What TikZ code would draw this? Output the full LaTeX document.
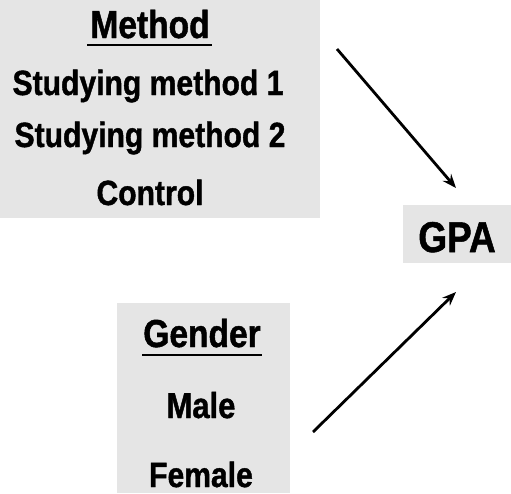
\documentclass[tikz,border=0pt]{standalone}
\usepackage{fontspec}
\setmainfont[FakeStretch=0.86, BoldFeatures={FakeBold=1.2}]{Liberation Sans}
\usetikzlibrary{arrows.meta}
\tikzset{
  speckle/.style={fill=black!10, draw=none},
  lbl/.style={inner sep=0pt, anchor=base, font=\bfseries},
  conn/.style={line width=2.8pt, -{Stealth[length=14pt,width=11pt,inset=5pt]}},
  uline/.style={line width=2.2pt}
}
\begin{document}
\begin{tikzpicture}[x=1pt,y=-1pt]
\useasboundingbox (0,0) rectangle (511,493);
% speckled background boxes
\fill[speckle] (0,0) rectangle (320,218);
\fill[speckle] (403,205) rectangle (511,263);
\fill[speckle] (117,303) rectangle (290,493);
% Method block
\node[lbl, font=\bfseries\fontsize{39}{44}\selectfont] (methodT) at (150,38) {Method};
\draw[uline] ([xshift=-3pt,yshift=-7pt]methodT.base west) -- ([xshift=2pt,yshift=-7pt]methodT.base east);
\node[lbl, font=\bfseries\fontsize{35}{40}\selectfont] (sm1) at (148,95) {Studying method 1};
\node[lbl, font=\bfseries\fontsize{35}{40}\selectfont] (sm2) at (150,147) {Studying method 2};
\node[lbl, font=\bfseries\fontsize{35}{40}\selectfont] (ctrl) at (150,205) {Control};
% GPA
\node[lbl, font=\bfseries\fontsize{43}{48}\selectfont] (gpa) at (457,252) {GPA};
% Gender block
\node[lbl, font=\bfseries\fontsize{39}{44}\selectfont] (genderT) at (202,347) {Gender};
\draw[uline] ([xshift=-1pt,yshift=-8pt]genderT.base west) -- ([xshift=1pt,yshift=-8pt]genderT.base east);
\node[lbl, font=\bfseries\fontsize{36}{40}\selectfont] (male) at (201,418) {Male};
\node[lbl, font=\bfseries\fontsize{35}{40}\selectfont] (female) at (201,487) {Female};
% connectors
\coordinate (mStart) at (337,49);
\coordinate (mEnd) at (456,188);
\coordinate (gStart) at (313,432);
\coordinate (gEnd) at (456,292);
\draw[conn] (mStart) -- (mEnd);
\draw[conn] (gStart) -- (gEnd);
\end{tikzpicture}
\end{document}
